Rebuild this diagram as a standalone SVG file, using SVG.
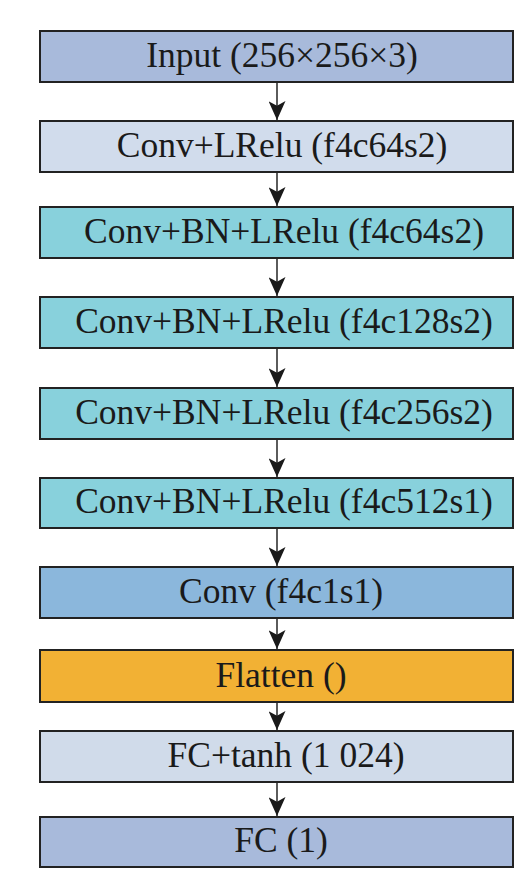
<svg xmlns="http://www.w3.org/2000/svg" width="532" height="890" viewBox="0 0 532 890">
<defs>
<style>
.box{stroke:#222;stroke-width:2}
.t{font-size:35.5px;fill:#1a1a1a;text-anchor:middle}
.c{stroke:#333;stroke-width:1.6;fill:none}
</style>
<marker id="ad" viewBox="0 0 18 20" refX="9" refY="20" markerWidth="17" markerHeight="20" markerUnits="userSpaceOnUse">
<path d="M0,0 L9,5 L18,0 L9,20 Z" fill="#1a1a1a"/>
</marker>
</defs>
<rect width="532" height="890" fill="#ffffff"/>
<g id="connectors">
<line class="c" x1="277" y1="82" x2="277" y2="120" marker-end="url(#ad)"/>
<line class="c" x1="277" y1="172" x2="277" y2="206" marker-end="url(#ad)"/>
<line class="c" x1="277" y1="258" x2="277" y2="296" marker-end="url(#ad)"/>
<line class="c" x1="277" y1="348" x2="277" y2="387" marker-end="url(#ad)"/>
<line class="c" x1="277" y1="439" x2="277" y2="477" marker-end="url(#ad)"/>
<line class="c" x1="277" y1="528" x2="277" y2="566" marker-end="url(#ad)"/>
<line class="c" x1="277" y1="618" x2="277" y2="649" marker-end="url(#ad)"/>
<line class="c" x1="277" y1="702" x2="277" y2="730" marker-end="url(#ad)"/>
<line class="c" x1="277" y1="782" x2="277" y2="816" marker-end="url(#ad)"/>
</g>
<g font-family="'Liberation Serif', 'Times New Roman', serif">
<g id="input"><rect class="box" x="40" y="31" width="473" height="51" fill="#a8badb"/><text class="t" x="282" y="67">Input (256×256×3)</text></g>
<g id="conv1"><rect class="box" x="40" y="121" width="473" height="51" fill="#d1dcec"/><text class="t" x="282" y="157">Conv+LRelu (f4c64s2)</text></g>
<g id="conv2"><rect class="box" x="40" y="207" width="473" height="51" fill="#88d1dc"/><text class="t" x="284" y="243">Conv+BN+LRelu (f4c64s2)</text></g>
<g id="conv3"><rect class="box" x="40" y="297" width="473" height="51" fill="#88d1dc"/><text class="t" x="284" y="333">Conv+BN+LRelu (f4c128s2)</text></g>
<g id="conv4"><rect class="box" x="40" y="388" width="473" height="51" fill="#88d1dc"/><text class="t" x="284" y="424">Conv+BN+LRelu (f4c256s2)</text></g>
<g id="conv5"><rect class="box" x="40" y="478" width="473" height="50" fill="#88d1dc"/><text class="t" x="284" y="513">Conv+BN+LRelu (f4c512s1)</text></g>
<g id="conv6"><rect class="box" x="40" y="567" width="473" height="51" fill="#8bb7dc"/><text class="t" x="281" y="603">Conv (f4c1s1)</text></g>
<g id="flatten"><rect class="box" x="40" y="650" width="473" height="52" fill="#f2b134"/><text class="t" x="281" y="687">Flatten ()</text></g>
<g id="fc1"><rect class="box" x="40" y="731" width="473" height="51" fill="#d0dbea"/><text class="t" x="286" y="767">FC+tanh (1 024)</text></g>
<g id="fc2"><rect class="box" x="40" y="817" width="473" height="50" fill="#a8badb"/><text class="t" x="281" y="852">FC (1)</text></g>
</g>
</svg>
